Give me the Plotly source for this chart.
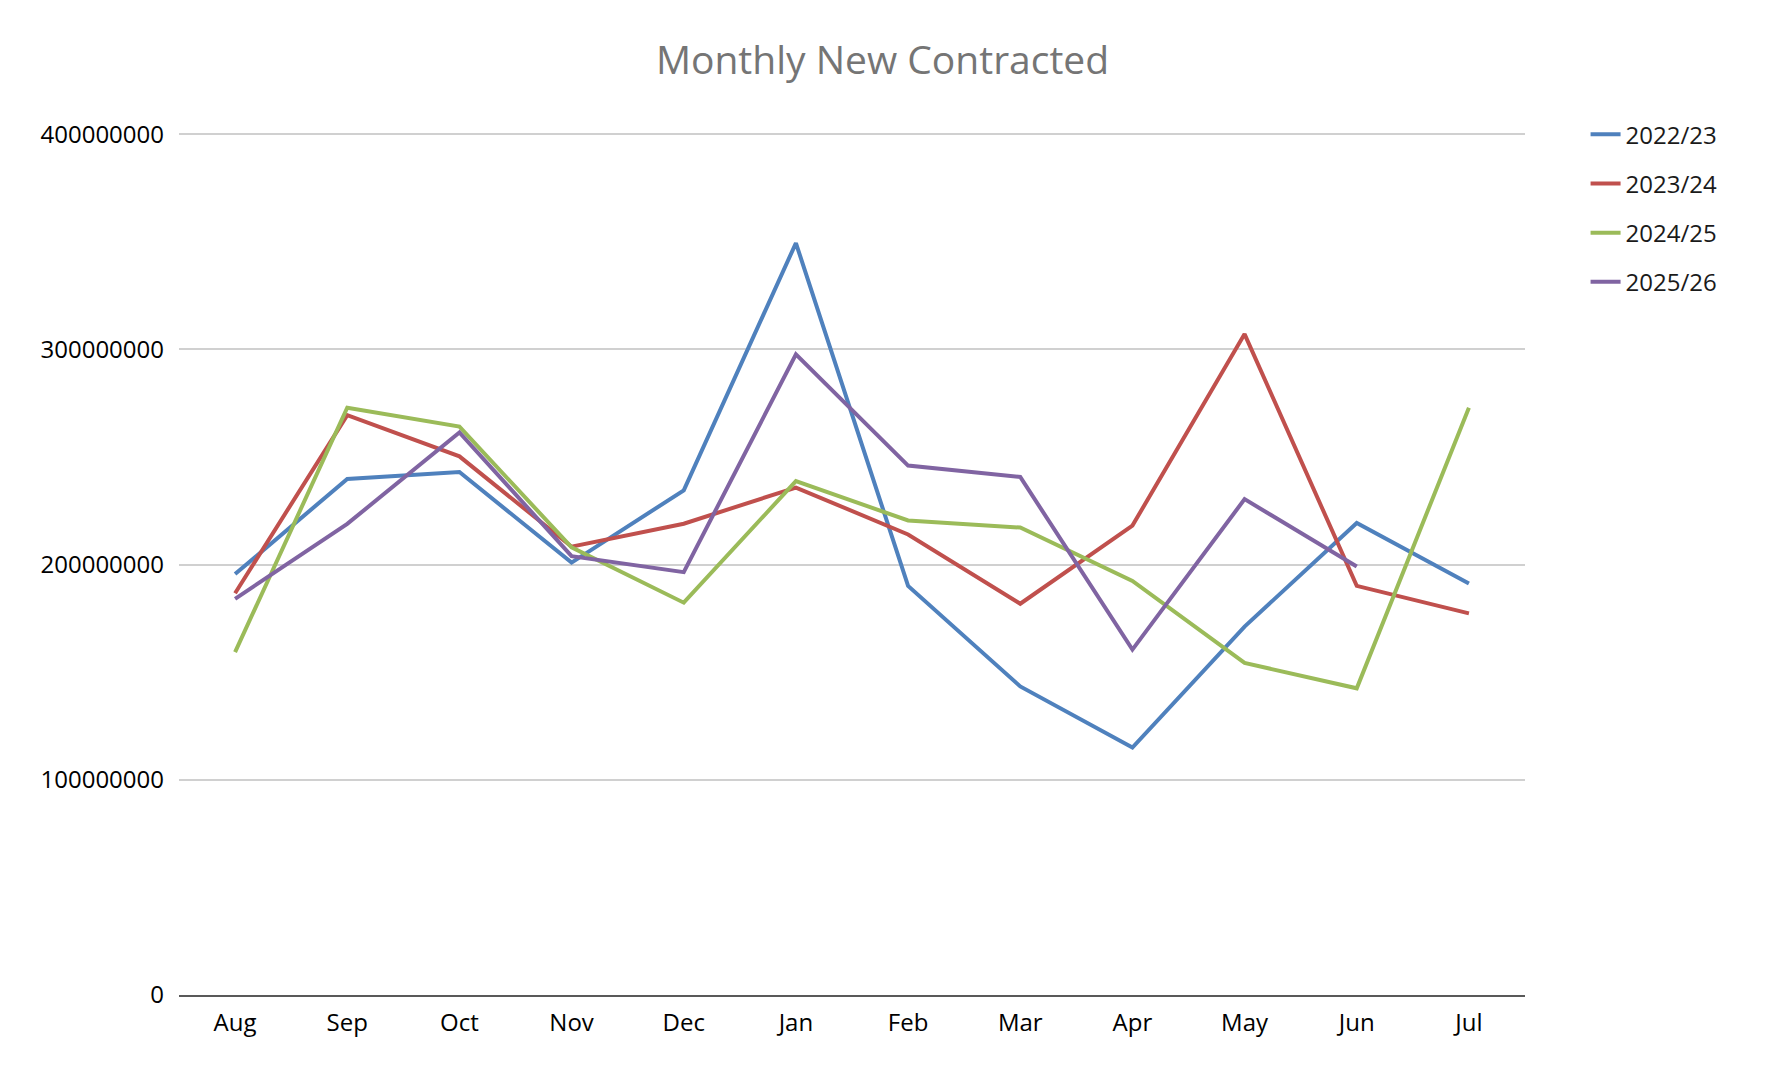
import plotly.graph_objects as go

months = ["Aug", "Sep", "Oct", "Nov", "Dec", "Jan", "Feb", "Mar", "Apr", "May", "Jun", "Jul"]

fy_2022_23 = [195.6e6, 239.8e6, 243.0e6, 200.9e6, 234.5e6, 349.4e6, 190.1e6, 143.4e6, 115.0e6, 171.2e6, 219.3e6, 191.2e6]
fy_2023_24 = [186.7e6, 269.4e6, 250.3e6, 208.3e6, 219.0e6, 235.8e6, 214.0e6, 181.8e6, 218.1e6, 307.1e6, 190.1e6, 177.3e6]
fy_2024_25 = [159.3e6, 272.9e6, 264.1e6, 208.0e6, 182.3e6, 238.8e6, 220.5e6, 217.2e6, 192.4e6, 154.3e6, 142.5e6, 272.9e6]
fy_2025_26 = [184.1e6, 218.9e6, 261.4e6, 203.9e6, 196.5e6, 297.7e6, 246.0e6, 240.7e6, 160.5e6, 230.4e6, 199.1e6, None]

series = [
    ("2022/23", fy_2022_23, "#4F81BD"),
    ("2023/24", fy_2023_24, "#C0504D"),
    ("2024/25", fy_2024_25, "#9BBB59"),
    ("2025/26", fy_2025_26, "#8064A2"),
]

fig = go.Figure()
for name, vals, color in series:
    fig.add_trace(go.Scatter(
        x=months, y=vals, name=name, mode="lines",
        line=dict(color=color, width=4),
        legendgroup=name,
    ))

font_family = "Open Sans, Noto Sans, sans-serif"

fig.update_layout(
    width=1765, height=1072,
    paper_bgcolor="white", plot_bgcolor="white",
    margin=dict(l=179, r=240, t=132, b=77),
    title=dict(
        text="Monthly New Contracted",
        x=0.5, xref="container", xanchor="center",
        y=1 - 60 / 1072, yref="container", yanchor="middle",
        font=dict(family=font_family, size=39, color="#757575"),
    ),
    font=dict(family=font_family, size=24, color="#000000"),
    showlegend=True,
    legend=dict(
        x=1.045, xanchor="left", y=1.023, yanchor="top",
        font=dict(family=font_family, size=24, color="#1a1a1a"),
        tracegroupgap=15,
        itemwidth=30,
        bgcolor="rgba(0,0,0,0)",
    ),
)

fig.update_xaxes(
    type="category",
    range=[-0.5, 11.5],
    showgrid=False,
    showline=True, linecolor="#595959", linewidth=2,
    ticks="", ticklabelstandoff=5,
    tickfont=dict(family=font_family, size=24, color="#000000"),
)

fig.update_yaxes(
    range=[0, 401e6],
    tickvals=[0, 100e6, 200e6, 300e6, 400e6],
    ticktext=["0", "100000000", "200000000", "300000000", "400000000"],
    showgrid=True, gridcolor="#D0D0D0", gridwidth=2,
    zeroline=False, showline=False,
    ticks="", ticklabelstandoff=14,
    tickfont=dict(family=font_family, size=24, color="#000000"),
)

fig.write_html("out.html")
